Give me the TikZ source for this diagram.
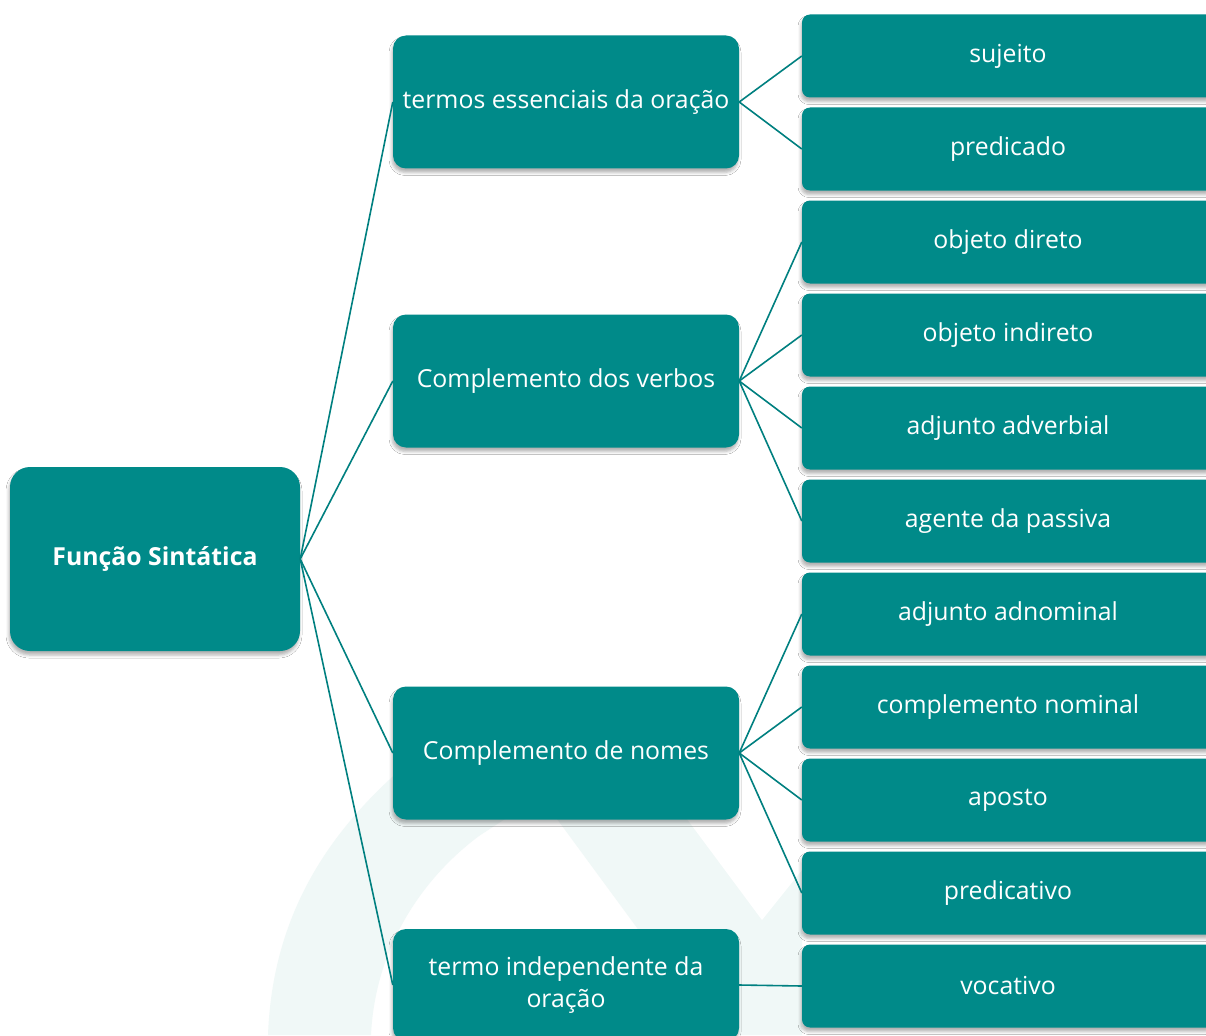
\documentclass[tikz,border=0pt]{standalone}
\usepackage{fontspec}
\setmainfont{Open Sans}
\usetikzlibrary{shadows.blur}
\definecolor{boxfill}{RGB}{0,138,137}
\definecolor{lnk}{RGB}{0,128,128}
\definecolor{wmark}{RGB}{240,248,247}
\begin{document}
\begin{tikzpicture}[x=1pt,y=-1pt,
  basebox/.style={fill=boxfill, text=white, inner sep=0pt, align=center,
    font=\fontsize{24.8}{32}\selectfont,
    blur shadow={shadow xshift=-1pt, shadow yshift=-4pt, shadow blur radius=3pt, shadow opacity=30}},
  rootbox/.style={basebox, minimum width=290pt, minimum height=184pt, rounded corners=20pt,
    font=\fontsize{24.8}{32}\selectfont\bfseries},
  midbox/.style={basebox, minimum width=346pt, minimum height=133pt, rounded corners=13pt},
  leafbox/.style={basebox, minimum width=412pt, minimum height=83pt, rounded corners=8pt},
  link/.style={draw=lnk, line width=1.6pt}]
\useasboundingbox (0,0) rectangle (1206,1035);
\fill[white] (0,0) rectangle (1206,1035);
\clip (0,0) rectangle (1206,1035);
% faint watermark
\fill[wmark] (268,1035) .. controls (272,930) and (315,845) .. (400,770) -- (510,770) -- (505,819)
  -- (479,836) .. controls (420,880) and (375,950) .. (371,1035) -- cycle;
\fill[wmark] (557,819) -- (643,936) -- (715,1035) -- (802,1035) -- (802,819) -- cycle;
\fill[white] (687,819) -- (762,920) -- (802,870) -- (802,819) -- cycle;
% nodes
\node[rootbox] (root) at (155,559) {Função Sintática};
\node[midbox] (ess) at (566,102) {termos essenciais da oração};
\node[midbox] (verb) at (566,381) {Complemento dos verbos};
\node[midbox] (nom) at (566,753) {Complemento de nomes};
\node[midbox, minimum height=112pt] (ind) at (566,985) {termo independente da\\oração};
\node[leafbox] (suj) at (1008,56) {sujeito};
\node[leafbox] (pred) at (1008,149) {predicado};
\node[leafbox] (od) at (1008,242) {objeto direto};
\node[leafbox] (oi) at (1008,335) {objeto indireto};
\node[leafbox] (aadv) at (1008,428) {adjunto adverbial};
\node[leafbox] (ag) at (1008,521) {agente da passiva};
\node[leafbox] (aadn) at (1008,614) {adjunto adnominal};
\node[leafbox] (cn) at (1008,707) {complemento nominal};
\node[leafbox] (ap) at (1008,800) {aposto};
\node[leafbox] (prv) at (1008,893) {predicativo};
\node[leafbox] (voc) at (1008,986) {vocativo};
% connectors
\foreach \t in {ess,verb,nom,ind} \draw[link] (root.east) -- (\t.west);
\foreach \t in {suj,pred} \draw[link] (ess.east) -- (\t.west);
\foreach \t in {od,oi,aadv,ag} \draw[link] (verb.east) -- (\t.west);
\foreach \t in {aadn,cn,ap,prv} \draw[link] (nom.east) -- (\t.west);
\draw[link] (ind.east) -- (voc.west);
\end{tikzpicture}
\end{document}
